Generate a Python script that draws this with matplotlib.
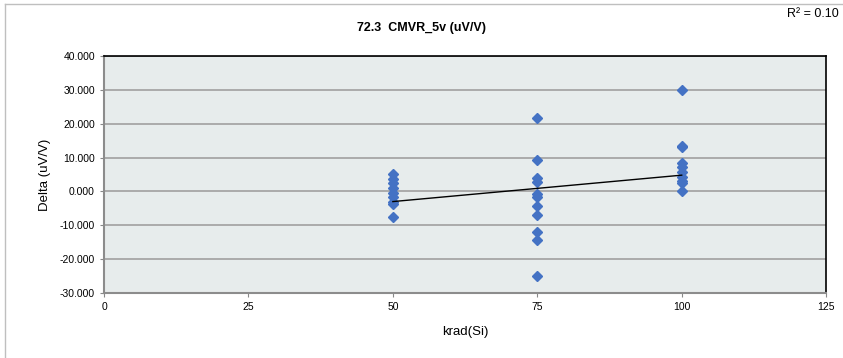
import matplotlib.pyplot as plt
from matplotlib.lines import Line2D
from matplotlib.ticker import FormatStrFormatter

plt.rcParams['font.family'] = ['Liberation Sans', 'DejaVu Sans']
plt.rcParams['axes.unicode_minus'] = False

x_50 = [50] * 9
y_50 = [5.0, 3.6, 2.4, 0.9, -0.6, -1.7, -3.0, -3.7, -7.5]
x_75 = [75] * 11
y_75 = [21.6, 9.3, 3.9, 2.9, -0.9, -1.6, -4.3, -7.0, -12.1, -14.3, -25.0]
x_100 = [100] * 10
y_100 = [30.0, 13.4, 13.0, 8.3, 7.3, 5.8, 4.3, 3.1, 2.4, 0.1]

# linear trend end points as drawn in the chart
trend_x = [50, 100]
trend_y = [-3.0, 4.8]

xticks = [0, 25, 50, 75, 100, 125]
yticks = [-30, -20, -10, 0, 10, 20, 30, 40]

fig = plt.figure(figsize=(8.43, 3.58), dpi=100)
ax = fig.add_axes([0.1234, 0.1816, 0.8566, 0.662])
ax.set_facecolor('#E7ECEC')

xs = x_50 + x_75 + x_100
ys = y_50 + y_75 + y_100
ax.plot(xs, ys, linestyle='none', marker='D', markersize=4.6, color='#4472C4', zorder=3)
ax.plot(trend_x, trend_y, color='black', lw=1, zorder=4)

ax.set_xlim(0, 125)
ax.set_ylim(-30, 40)
ax.set_xticks(xticks)
ax.set_yticks(yticks)
ax.yaxis.set_major_formatter(FormatStrFormatter('%.3f'))
ax.tick_params(labelsize=7.5, length=3, color='#888888', width=0.8)
ax.grid(axis='y', color='#A6A6A6', lw=1.3)
ax.set_axisbelow(True)

for s in ['top', 'right']:
    ax.spines[s].set_color('black')
    ax.spines[s].set_linewidth(1.2)
for s in ['left', 'bottom']:
    ax.spines[s].set_color('#8C8C8C')
    ax.spines[s].set_linewidth(1.5)

ax.set_xlabel('krad(Si)', fontsize=9.5, labelpad=10)
ax.set_ylabel('Delta (uV/V)', fontsize=9.5, labelpad=6)

fig.text(0.5, 0.922, '72.3  CMVR_5v (uV/V)', ha='center', va='center',
         fontsize=9, fontweight='bold')
fig.text(0.995, 0.962, 'R² = 0.10', ha='right', va='center', fontsize=9)

# chart outer border (left and top edges visible)
fig.add_artist(Line2D([0.006, 0.006], [0, 0.989], color='#BFBFBF', lw=1,
                      transform=fig.transFigure))
fig.add_artist(Line2D([0.006, 1], [0.989, 0.989], color='#BFBFBF', lw=1,
                      transform=fig.transFigure))

fig.savefig('out.png', dpi=100)
